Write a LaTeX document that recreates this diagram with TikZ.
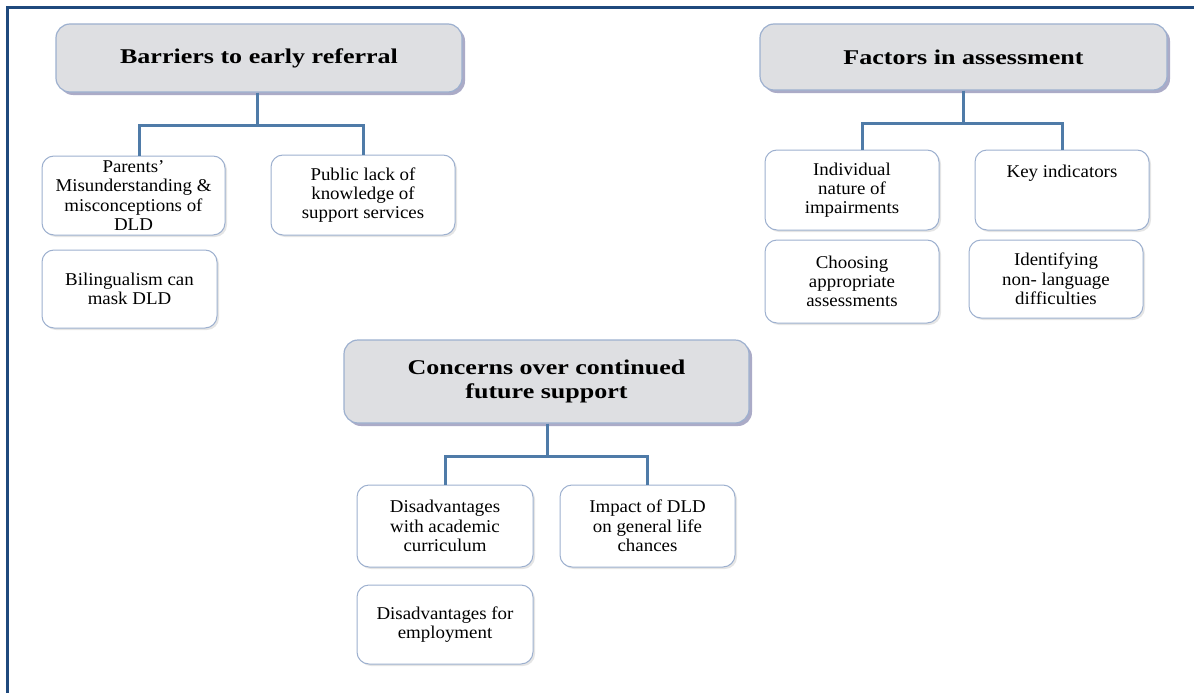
\documentclass[tikz,border=0pt]{standalone}
\usepackage{fontspec}
\setmainfont{Liberation Serif}
\newfontfamily\hdfont[FakeStretch=1.24]{Liberation Serif}
\newfontfamily\chfont[FakeStretch=1.05]{Liberation Serif}
\usetikzlibrary{shadows}
\definecolor{framecol}{HTML}{1F497D}
\definecolor{conncol}{HTML}{4F7BA8}
\definecolor{bordcol}{HTML}{9DB0CF}
\definecolor{hfillcol}{HTML}{DEDFE2}
\newcommand\mybox[7]{\node[#2, minimum width={#5-#3}, minimum height={#6-#4}] (#1) at ({(#3+#5)/2},{(#4+#6)/2}) {#7};}
\begin{document}
\begin{tikzpicture}[x=1pt,y=-1pt,
  headbox/.style={draw=bordcol, line width=1.2pt, fill=hfillcol, rounded corners=14pt,
    drop shadow={shadow xshift=3pt, shadow yshift=-3pt, fill=gray!80!blue, opacity=0.55},
    font=\hdfont\fontsize{21}{24.5}\selectfont\bfseries, align=center, inner sep=0pt},
  childbox/.style={draw=bordcol, line width=1pt, fill=white, rounded corners=12pt,
    drop shadow={shadow xshift=2pt, shadow yshift=-2pt, fill=gray!40, opacity=0.5},
    font=\chfont\fontsize{18}{19.3}\selectfont, align=center, inner sep=0pt},
  connline/.style={draw=conncol, line width=3pt}]
\useasboundingbox (0,0) rectangle (1194,693);
\draw[framecol, line width=3pt] (1194,8) -- (7,8) -- (7,693);

% Barriers
\mybox{h1}{headbox}{56}{24}{462}{92}{Barriers to early referral}
\mybox{c11}{childbox}{42}{156}{225}{235}{Parents’\\Misunderstanding \&\\misconceptions of\\DLD}
\mybox{c12}{childbox}{271}{155}{455}{235}{Public lack of\\knowledge of\\support services}
\mybox{c13}{childbox}{42}{250}{217}{328}{Bilingualism can\\mask DLD}
\coordinate (j1) at (257,125);
\draw[connline] (h1.south -| j1) -- (j1);
\draw[connline] ([xshift=6pt]c11.north) |- (j1) -| (c12.north);

% Factors
\mybox{h2}{headbox}{760}{24}{1167}{90}{Factors in assessment}
\mybox{c21}{childbox}{765}{150}{939}{230}{Individual\\nature of\\impairments}
\mybox{c22}{childbox}{975}{150}{1149}{230}{Key indicators\\[19pt]}
\mybox{c23}{childbox}{765}{240}{939}{323}{Choosing\\appropriate\\assessments}
\mybox{c24}{childbox}{969}{240}{1143}{318}{Identifying\\non- language\\difficulties}
\coordinate (j2) at (963,123);
\draw[connline] (h2.south -| j2) -- (j2);
\draw[connline] ([xshift=10pt]c21.north) |- (j2) -| (c22.north);

% Concerns
\mybox{h3}{headbox}{344}{340}{749}{423}{Concerns over continued\\future support}
\mybox{c31}{childbox}{357}{485}{533}{567}{Disadvantages\\with academic\\curriculum}
\mybox{c32}{childbox}{560}{485}{735}{567}{Impact of DLD\\on general life\\chances}
\mybox{c33}{childbox}{357}{585}{533}{664}{Disadvantages for\\employment}
\coordinate (j3) at (547,456);
\draw[connline] (h3.south -| j3) -- (j3);
\draw[connline] (c31.north) |- (j3) -| (c32.north);
\end{tikzpicture}
\end{document}
